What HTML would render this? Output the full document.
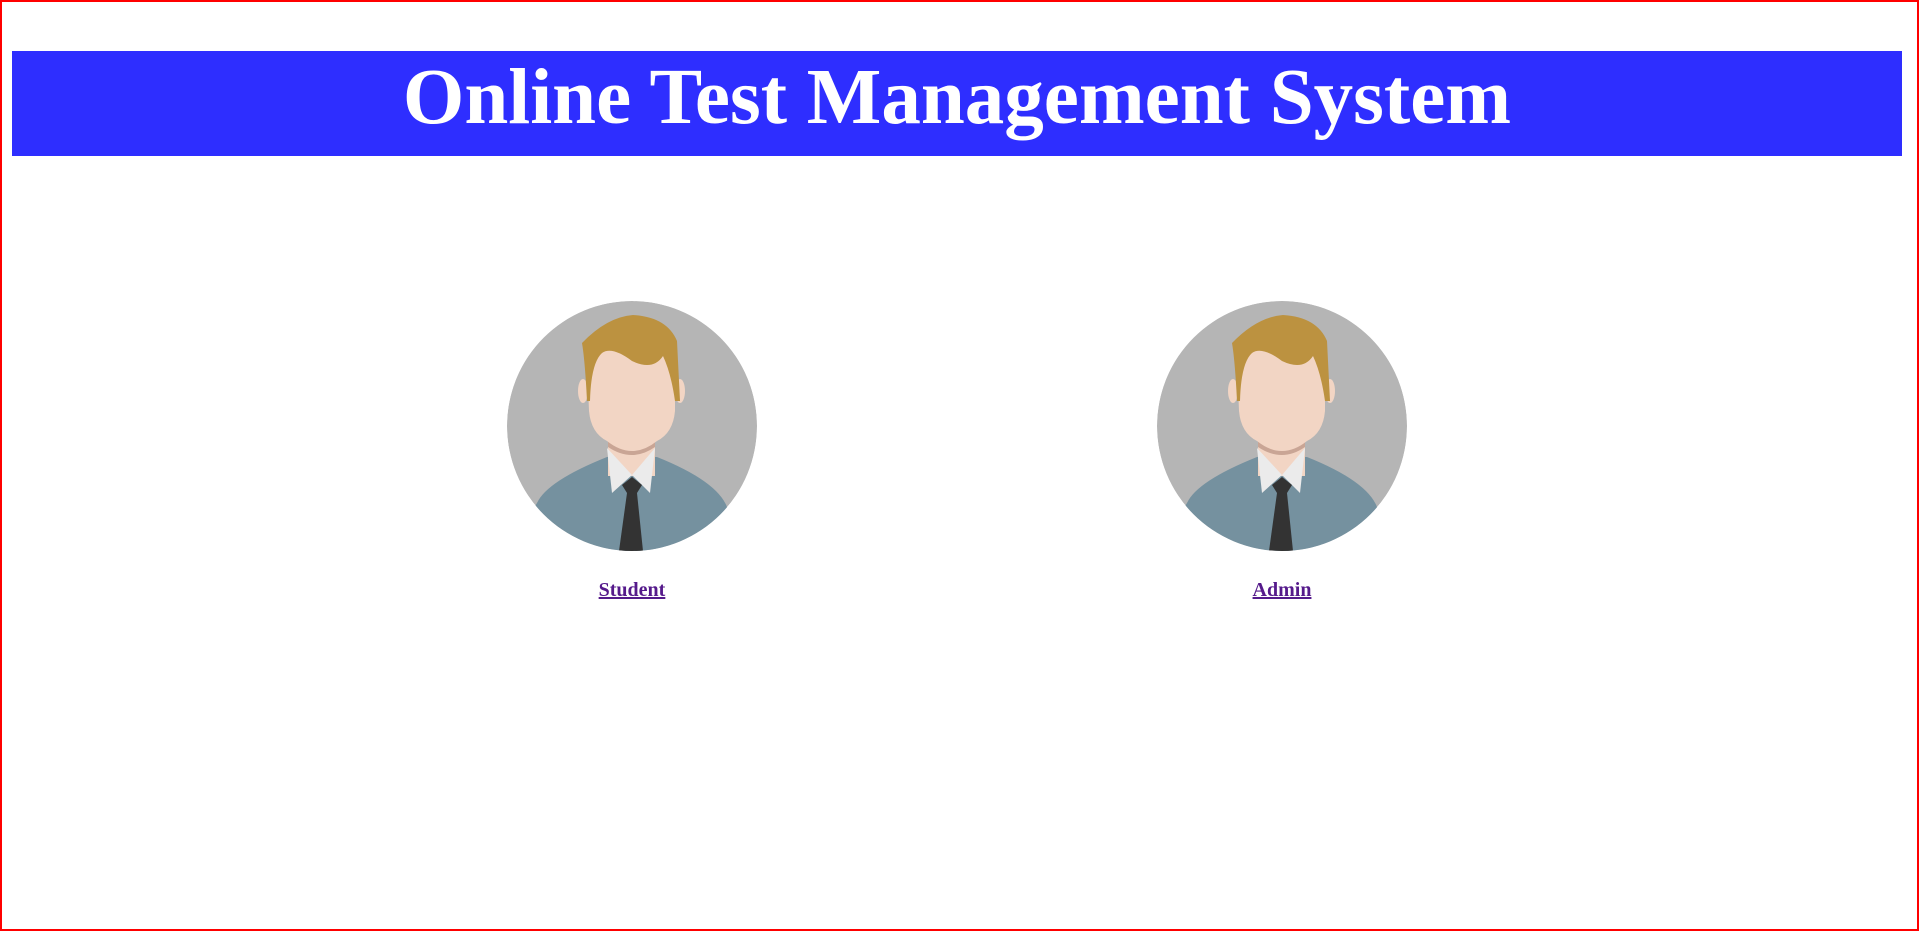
<!DOCTYPE html>
<html><head><style>
html,body{margin:0;padding:0;}
body{width:1919px;height:931px;position:relative;overflow:hidden;background:#fff;}
.frame{position:absolute;left:0;top:0;width:1915px;height:927px;border:2px solid #f00;}
.bar{position:absolute;left:12px;top:51px;width:1890px;height:105px;background:#2e2eff;color:#fff;text-align:center;font-family:"Liberation Serif",serif;font-weight:bold;font-size:79px;line-height:94px;}
.av{position:absolute;top:301px;width:250px;height:250px;}
.lbl{position:absolute;top:579px;width:250px;text-align:center;font-family:"Liberation Serif",serif;font-weight:bold;font-size:20px;color:#551a8b;text-decoration:underline;}
</style></head><body>
<div class="frame"></div>
<div class="bar">Online Test Management System</div>

<svg class="av" style="left:507px" viewBox="0 0 250 250">
<defs><clipPath id="c1"><circle cx="125" cy="125" r="125"/></clipPath></defs>
<g clip-path="url(#c1)">
<circle cx="125" cy="125" r="125" fill="#b5b5b5"/>
<path d="M30 202 Q40 180 100 156 L150 156 Q210 180 220 206 L250 250 L0 250Z" fill="#75919f"/>
<rect x="101" y="125" width="47" height="50" fill="#f2d5c4"/>
<path d="M101 138 Q125 158 148 138 L148 146 Q125 162 101 146Z" fill="#c9a595"/>
<ellipse cx="76" cy="90" rx="5" ry="12" fill="#f2d5c4"/>
<ellipse cx="173" cy="90" rx="5" ry="12" fill="#f2d5c4"/>
<path d="M80 60 Q80 40 124 38 Q168 40 168 60 L168 110 Q166 132 150 140 Q125 160 100 140 Q84 132 82 110Z" fill="#f2d5c4"/>
<path d="M75 42 Q100 16 126 14 Q160 16 170 40 L173 100 L168 100 Q164 72 156 55 Q146 70 125 60 Q105 45 95 52 Q84 62 83 100 L80 100 Q78 60 75 42Z" fill="#bc9240"/>
<path d="M100 147 L105 192 L125 174Z" fill="#ebebeb"/>
<path d="M148 147 L143 192 L125 174Z" fill="#ebebeb"/>
<path d="M115 184 L125 176 L135 184 L130 192 L120 192Z" fill="#333"/>
<path d="M120 192 L130 192 L136 250 L112 250Z" fill="#333"/>
</g></svg>
<div class="lbl" style="left:507px">Student</div>

<svg class="av" style="left:1157px" viewBox="0 0 250 250">
<defs><clipPath id="c2"><circle cx="125" cy="125" r="125"/></clipPath></defs>
<g clip-path="url(#c2)">
<circle cx="125" cy="125" r="125" fill="#b5b5b5"/>
<path d="M30 202 Q40 180 100 156 L150 156 Q210 180 220 206 L250 250 L0 250Z" fill="#75919f"/>
<rect x="101" y="125" width="47" height="50" fill="#f2d5c4"/>
<path d="M101 138 Q125 158 148 138 L148 146 Q125 162 101 146Z" fill="#c9a595"/>
<ellipse cx="76" cy="90" rx="5" ry="12" fill="#f2d5c4"/>
<ellipse cx="173" cy="90" rx="5" ry="12" fill="#f2d5c4"/>
<path d="M80 60 Q80 40 124 38 Q168 40 168 60 L168 110 Q166 132 150 140 Q125 160 100 140 Q84 132 82 110Z" fill="#f2d5c4"/>
<path d="M75 42 Q100 16 126 14 Q160 16 170 40 L173 100 L168 100 Q164 72 156 55 Q146 70 125 60 Q105 45 95 52 Q84 62 83 100 L80 100 Q78 60 75 42Z" fill="#bc9240"/>
<path d="M100 147 L105 192 L125 174Z" fill="#ebebeb"/>
<path d="M148 147 L143 192 L125 174Z" fill="#ebebeb"/>
<path d="M115 184 L125 176 L135 184 L130 192 L120 192Z" fill="#333"/>
<path d="M120 192 L130 192 L136 250 L112 250Z" fill="#333"/>
</g></svg>
<div class="lbl" style="left:1157px">Admin</div>
</body></html>
